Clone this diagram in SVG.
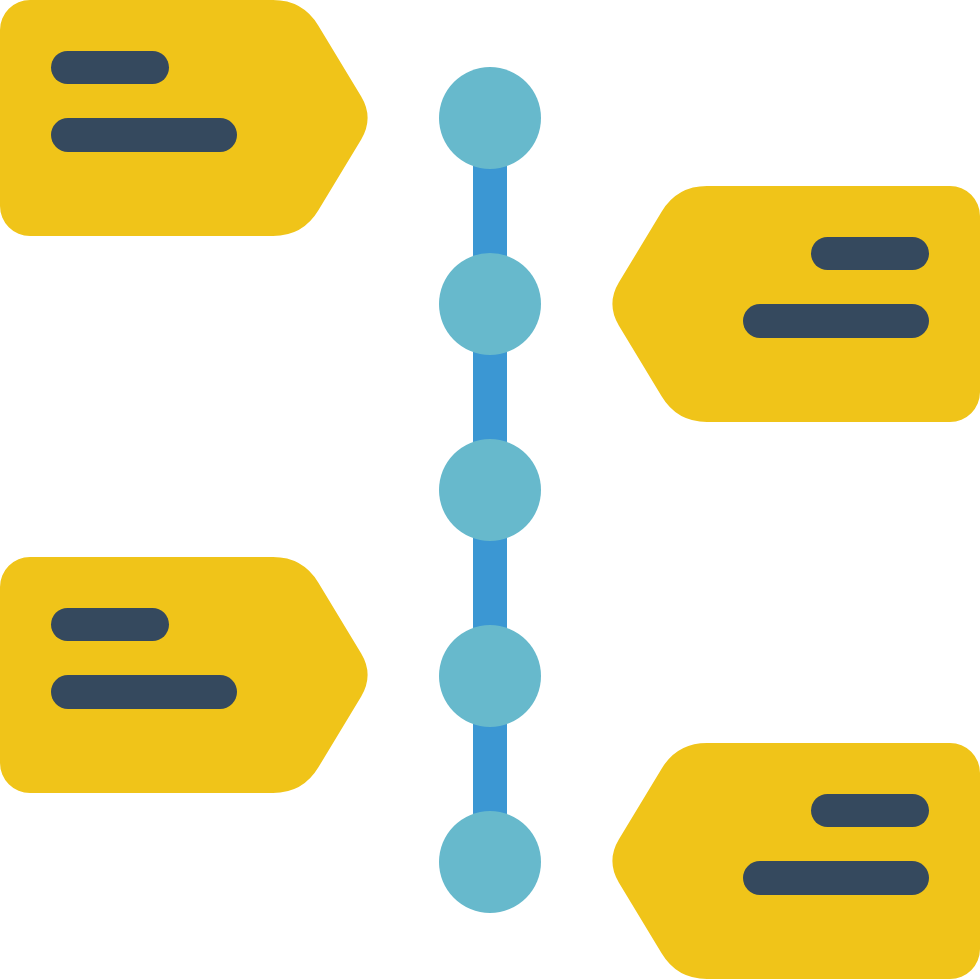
<svg xmlns="http://www.w3.org/2000/svg" xmlns:xlink="http://www.w3.org/1999/xlink" width="980" height="980" viewBox="0 0 980 980">
<style>
.tag{fill:#F0C419}
.bar{fill:#35495E}
.dot{fill:#67B9CC}
.line{stroke:#3B97D3;stroke-width:34;fill:none}
</style>
<defs>
<g id="tagL">
<path class="tag" d="M30,0 H273 Q303,0 318.4,25.7 L361.2,96.6 Q374,118 361.2,139.4 L318.4,210.3 Q303,236 273,236 H30 A30,30 0 0 1 0,206 V30 A30,30 0 0 1 30,0 Z"/>
<rect class="bar" x="51" y="51" width="118" height="33" rx="16.5"/>
<rect class="bar" x="51" y="118" width="186" height="34" rx="17"/>
</g>
</defs>
<g id="connectors">
<line class="line" x1="490" y1="118" x2="490" y2="862"/>
</g>
<g id="dot1"><circle class="dot" cx="490" cy="118" r="51"/></g>
<g id="dot2"><circle class="dot" cx="490" cy="304" r="51"/></g>
<g id="dot3"><circle class="dot" cx="490" cy="490" r="51"/></g>
<g id="dot4"><circle class="dot" cx="490" cy="676" r="51"/></g>
<g id="dot5"><circle class="dot" cx="490" cy="862" r="51"/></g>
<g id="tag1"><use xlink:href="#tagL" href="#tagL"/></g>
<g id="tag2"><use xlink:href="#tagL" href="#tagL" transform="translate(980,186) scale(-1,1)"/></g>
<g id="tag3"><use xlink:href="#tagL" href="#tagL" transform="translate(0,557)"/></g>
<g id="tag4"><use xlink:href="#tagL" href="#tagL" transform="translate(980,743) scale(-1,1)"/></g>
</svg>
